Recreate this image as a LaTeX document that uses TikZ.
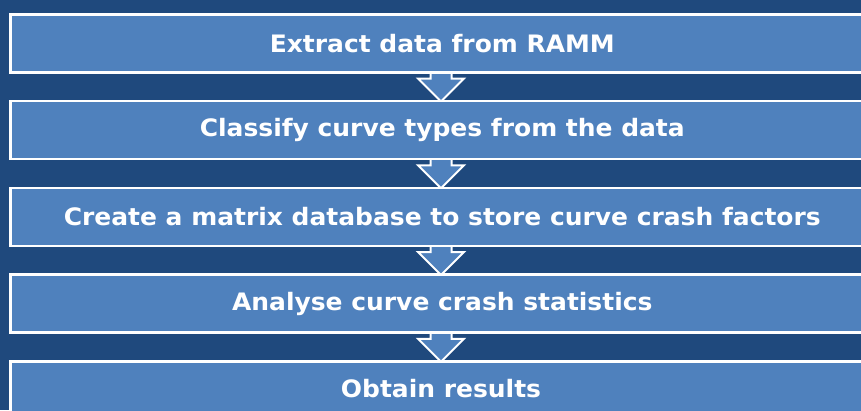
\documentclass[tikz,border=0pt]{standalone}
\usepackage{fontspec}
\setmainfont{DejaVu Sans}[FakeStretch=1.04]
\definecolor{bgblue}{HTML}{1F497D}
\definecolor{boxblue}{HTML}{4F81BD}
\begin{document}
\begin{tikzpicture}[x=1pt,y=-1pt,
  stepfont/.style={font=\bfseries\fontsize{24}{28}\selectfont, text=white},
  stepbox/.style={draw=white, line width=2.6pt, fill=boxblue, minimum width=864pt, minimum height=58pt, inner sep=0pt, anchor=north west, stepfont},
  steparrow/.style={draw=white, line width=2pt, fill=boxblue, line join=miter}
]
\useasboundingbox (0,0) rectangle (861,410);
\clip (0,0) rectangle (861,410);
\fill[bgblue] (0,0) rectangle (861,410);
% arrows (behind boxes)
\foreach \i in {0,1,2,3}{
  \pgfmathsetmacro{\yb}{13+86.75*\i+58}
  \pgfmathsetmacro{\ys}{\yb+7.5}
  \pgfmathsetmacro{\yt}{\yb+30.5}
  \filldraw[steparrow] (430.5,\yb-6) -- (430.5,\ys) -- (418,\ys) -- (441,\yt) -- (464,\ys) -- (451.5,\ys) -- (451.5,\yb-6);
}
\node[stepbox] (s1) at (9,13) {Extract data from RAMM};
\node[stepbox] (s2) at (9,99.75) {Classify curve types from the data};
\node[stepbox] (s3) at (9,186.5) {Create a matrix database to store curve crash factors};
\node[stepbox] (s4) at (9,273.25) {Analyse curve crash statistics};
\node[stepbox, minimum height=64pt] (s5) at (9,360) {};
\node[stepfont] (t5) at (441,389) {Obtain results};
\end{tikzpicture}
\end{document}
